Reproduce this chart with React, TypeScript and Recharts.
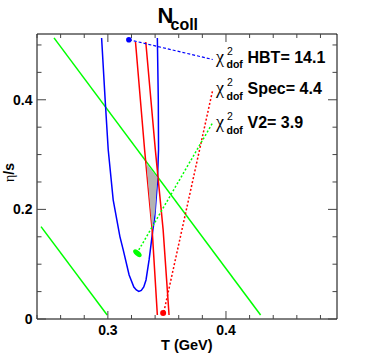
import React from "react";
import { ComposedChart, Line, Scatter, XAxis, YAxis, ReferenceArea } from "recharts";

const W = 374;
const H = 355;
const M = { top: 34, right: 37, bottom: 36, left: 37 };
const FRAME_TOP = M.top;
const FRAME_RIGHT = W - M.right;

// axes
const T_DOMAIN = [0.24, 0.494];
const ETA_DOMAIN = [0, 0.52];
const T_TICKS = [0.24, 0.26, 0.28, 0.3, 0.32, 0.34, 0.36, 0.38, 0.4, 0.42, 0.44, 0.46, 0.48];
const T_LABELS = [0.3, 0.4];
const ETA_TICKS = [0, 0.05, 0.1, 0.15, 0.2, 0.25, 0.3, 0.35, 0.4, 0.45, 0.5];
const ETA_LABELS = [0, 0.2, 0.4];

// HBT 1-sigma contour (blue)
const hbtContour = [
  { t: 0.2947, eta: 0.5127 },
  { t: 0.2977, eta: 0.4 },
  { t: 0.3003, eta: 0.3087 },
  { t: 0.3045, eta: 0.2174 },
  { t: 0.3102, eta: 0.1503 },
  { t: 0.313, eta: 0.126 },
  { t: 0.318, eta: 0.0804 },
  { t: 0.322, eta: 0.0584 },
  { t: 0.3241, eta: 0.053 },
  { t: 0.3262, eta: 0.0502 },
  { t: 0.3283, eta: 0.0521 },
  { t: 0.3304, eta: 0.0584 },
  { t: 0.3323, eta: 0.0712 },
  { t: 0.3349, eta: 0.1078 },
  { t: 0.3381, eta: 0.1626 },
  { t: 0.3397, eta: 0.1868 },
  { t: 0.3419, eta: 0.2484 },
  { t: 0.3429, eta: 0.3087 },
  { t: 0.3427, eta: 0.4 },
  { t: 0.3419, eta: 0.5127 },
];

// spectra contour (red), two branches
const specLeft = [
  { t: 0.3234, eta: 0.5054 },
  { t: 0.3311, eta: 0.3087 },
  { t: 0.3375, eta: 0.1626 },
  { t: 0.3419, eta: 0.0073 },
];
const specRight = [
  { t: 0.3321, eta: 0.5054 },
  { t: 0.3402, eta: 0.3087 },
  { t: 0.3468, eta: 0.1626 },
  { t: 0.3518, eta: 0.0073 },
];

// v2 contour (green), two branches
const v2Upper = [
  { t: 0.2544, eta: 0.513 },
  { t: 0.4293, eta: 0.0073 },
];
const v2Lower = [
  { t: 0.2434, eta: 0.1686 },
  { t: 0.2994, eta: 0.0073 },
];

// region allowed by all three
const overlap = [
  { t: 0.3326, eta: 0.284 },
  { t: 0.3419, eta: 0.2584 },
  { t: 0.3402, eta: 0.199 },
  { t: 0.3375, eta: 0.1644 },
];

// best fits
const hbtBest = [{ t: 0.3178, eta: 0.5096 }];
const specBest = [{ t: 0.3468, eta: 0.011 }];
const v2Best = [{ t: 0.325, eta: 0.12 }];

// pointers from best fit to label
const hbtPointer = [hbtBest[0], { t: 0.3888, eta: 0.4735 }];
const specPointer = [{ t: 0.3474, eta: 0.0128 }, { t: 0.3885, eta: 0.4152 }];
const v2Pointer = [{ t: 0.3262, eta: 0.126 }, { t: 0.3892, eta: 0.3598 }];

const PROBES = ["HBT", "Spec", "V2"];
const CHI2 = [14.1, 4.4, 3.9];
const LABEL_Y = [62.7, 94.3, 128.3];

const SANS = "'Liberation Sans', Arial, Helvetica, sans-serif";
const SERIF = "'Liberation Serif', 'Times New Roman', serif";
const tickFont = { fontFamily: SANS, fontWeight: 700, fontSize: 14, fill: "#000" };

const same = (a: number, b: number) => Math.abs(a - b) < 1e-9;

const XTick = (props: any) => {
  const { x, y, payload } = props;
  const major = T_LABELS.some((v) => same(v, payload.value));
  const len = major ? 8 : 4;
  return (
    <g>
      <line x1={x} y1={y} x2={x} y2={y - len} stroke="#444" />
      <line x1={x} y1={FRAME_TOP} x2={x} y2={FRAME_TOP + len} stroke="#444" />
      {major && (
        <text x={x} y={y + 16} textAnchor="middle" style={tickFont}>
          {payload.value}
        </text>
      )}
    </g>
  );
};

const YTick = (props: any) => {
  const { x, y, payload } = props;
  const major = ETA_LABELS.some((v) => same(v, payload.value));
  const len = major ? 9 : 4.5;
  return (
    <g>
      <line x1={x} y1={y} x2={x + len} y2={y} stroke="#444" />
      <line x1={FRAME_RIGHT} y1={y} x2={FRAME_RIGHT - len} y2={y} stroke="#444" />
      {major && (
        <text x={x - 4.5} y={y + 5} textAnchor="end" style={tickFont}>
          {payload.value}
        </text>
      )}
    </g>
  );
};

const dot = (color: string, r: number) => (p: any) => <circle cx={p.cx} cy={p.cy} r={r} fill={color} />;
const blob = (p: any) => (
  <ellipse cx={p.cx} cy={p.cy} rx={5} ry={2.6} fill="#00ff00" transform={`rotate(40 ${p.cx} ${p.cy})`} />
);
const none = () => <g />;

const curve = (data: any[], color: string, width = 1.5, dash?: string) => (
  <Line
    data={data}
    dataKey="eta"
    type="linear"
    stroke={color}
    strokeWidth={width}
    strokeDasharray={dash}
    dot={false}
    activeDot={false}
    isAnimationActive={false}
  />
);

const LegendRow = ({ i }: { i: number }) => {
  const y = LABEL_Y[i];
  return (
    <g>
      <text x={216} y={y} style={{ fontFamily: SERIF, fontSize: 18 }}>
        χ
      </text>
      <text x={227} y={y - 8} style={{ fontFamily: SANS, fontSize: 10.5 }}>
        2
      </text>
      <text x={226.5} y={y + 5.3} style={{ fontFamily: SANS, fontSize: 10.5, fontWeight: 700 }}>
        dof
      </text>
      <text x={247.5} y={y} style={{ fontFamily: SANS, fontSize: 16, fontWeight: 700 }}>
        {`${PROBES[i]}= ${CHI2[i]}`}
      </text>
    </g>
  );
};

export default function App() {
  return (
    <div style={{ position: "absolute", left: 0, top: 0, width: W, height: H, background: "#fff" }}>
      <ComposedChart width={W} height={H} margin={{ top: M.top, right: M.right, bottom: 0, left: 0 }}>
        <XAxis
          type="number"
          dataKey="t"
          domain={T_DOMAIN}
          allowDataOverflow
          ticks={T_TICKS}
          interval={0}
          tick={<XTick />}
          tickLine={false}
          axisLine={false}
          tickSize={0}
          tickMargin={0}
          height={M.bottom}
        />
        <YAxis
          type="number"
          dataKey="eta"
          domain={ETA_DOMAIN}
          allowDataOverflow
          ticks={ETA_TICKS}
          interval={0}
          tick={<YTick />}
          tickLine={false}
          axisLine={false}
          tickSize={0}
          tickMargin={0}
          width={M.left}
        />
        <Scatter
          data={overlap}
          dataKey="eta"
          fill="#b3b3b3"
          line={{ fill: "#b3b3b3", stroke: "none" }}
          shape={none}
          isAnimationActive={false}
        />
        {curve(v2Upper, "#00ff00")}
        {curve(v2Lower, "#00ff00")}
        {curve(hbtContour, "#0000ff")}
        {curve(specLeft, "#ff0000")}
        {curve(specRight, "#ff0000")}
        {curve(hbtPointer, "#0000ff", 1.2, "3 2")}
        {curve(specPointer, "#ff0000", 1.5, "2 2")}
        {curve(v2Pointer, "#00ff00", 1.5, "2 2")}
        <Scatter data={hbtBest} dataKey="eta" shape={dot("#0000ff", 2.8)} isAnimationActive={false} />
        <Scatter data={specBest} dataKey="eta" shape={dot("#ff0000", 3)} isAnimationActive={false} />
        <Scatter data={v2Best} dataKey="eta" shape={blob} isAnimationActive={false} />
        <ReferenceArea
          x1={T_DOMAIN[0]}
          x2={T_DOMAIN[1]}
          y1={ETA_DOMAIN[0]}
          y2={ETA_DOMAIN[1]}
          fill="none"
          stroke="#000"
          strokeWidth={1}
          ifOverflow="visible"
        />
      </ComposedChart>
      <svg width={W} height={H} style={{ position: "absolute", left: 0, top: 0, pointerEvents: "none" }}>
        <text x={157.5} y={23.3} style={{ fontFamily: SANS, fontWeight: 700, fontSize: 22 }}>
          N
        </text>
        <text x={170.5} y={30} style={{ fontFamily: SANS, fontWeight: 700, fontSize: 16 }}>
          coll
        </text>
        {PROBES.map((_, i) => (
          <LegendRow key={i} i={i} />
        ))}
        <text x={186.8} y={350} textAnchor="middle" style={{ fontFamily: SANS, fontWeight: 700, fontSize: 14.5 }}>
          T (GeV)
        </text>
        <text x={14} y={172.5} textAnchor="middle" transform="rotate(-90 14 172.5)" style={{ fontSize: 14 }}>
          <tspan style={{ fontFamily: SERIF }}>η</tspan>
          <tspan style={{ fontFamily: SANS, fontWeight: 700 }}>/s</tspan>
        </text>
      </svg>
    </div>
  );
}
